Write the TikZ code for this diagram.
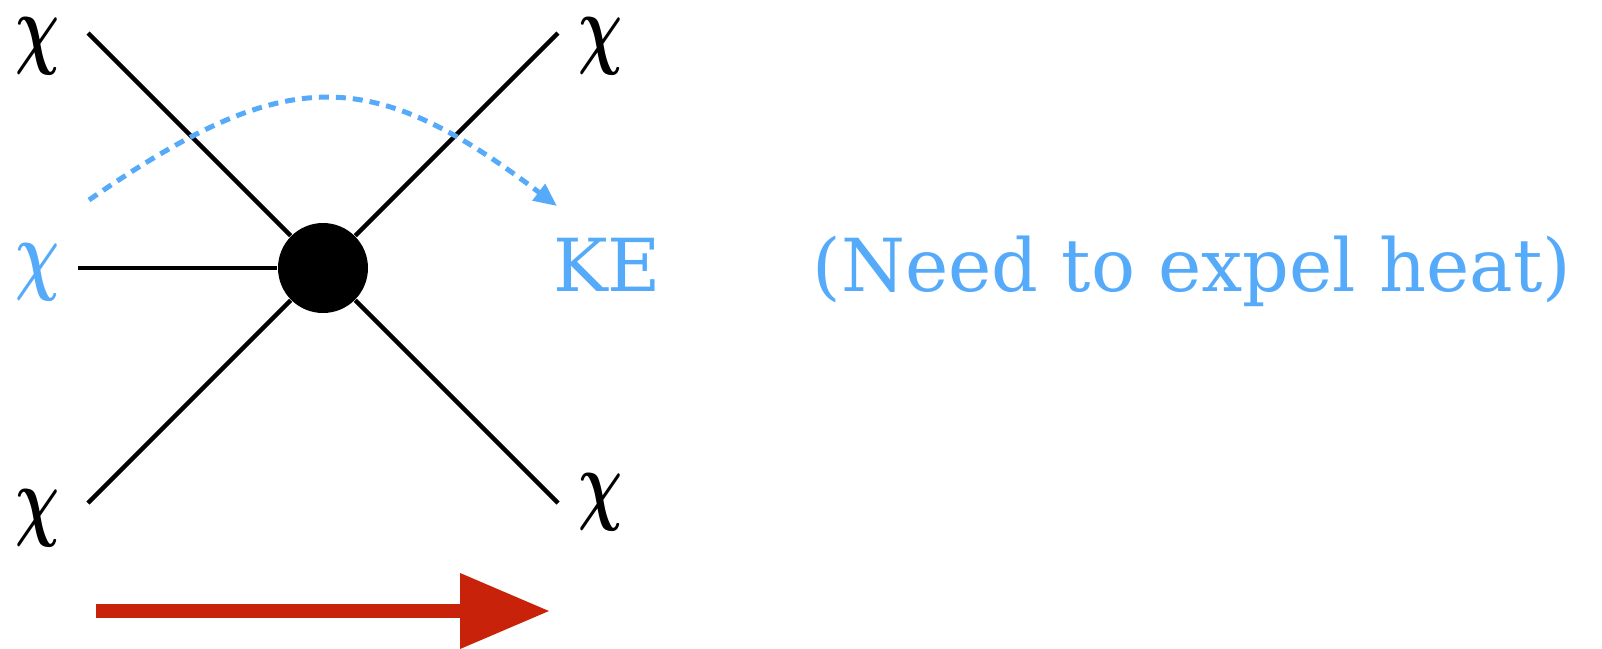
\documentclass[tikz,border=0pt]{standalone}
\usepackage{fontspec}
\setmainfont{DejaVu Serif}
\usepackage{graphicx}
\usepackage{xcolor}
\usepackage{tikz}
\usetikzlibrary{arrows.meta,positioning}
\definecolor{heatblue}{RGB}{85, 170, 250}
\definecolor{flowred}{RGB}{200, 35, 10}
\newcommand{\chisym}{\scalebox{1.75}[2.55]{\boldmath$\chi$}}

\begin{document}
\begin{tikzpicture}[x=0.1mm, y=-0.1mm,
    leg/.style={line width=0.45mm, black},
    chilabel/.style={inner sep=0pt},
    heattext/.style={inner sep=0pt, text=heatblue, font=\fontsize{20.8}{25}\selectfont}]
\useasboundingbox (0,0) rectangle (1602,648);
% Vertex
\node[circle, fill=black, minimum size=9mm, inner sep=0pt] (vertex) at (323,268) {};
% External legs
\foreach \name/\x/\y in {tl/88/33, tr/558/33, bl/88/503, br/558/503, l/78/268} {
    \coordinate (\name) at (\x,\y);
    \draw[leg] (\name) -- (vertex);
}
% Particle labels
\foreach \name/\x/\y in {TL/38/46, TR/601/46, BL/38/518, BR/601/502} {
    \node[chilabel] (chi\name) at (\x,\y) {\chisym};
}
\node[chilabel, text=heatblue] (chiL) at (38,272) {\chisym};
% Energy carried away
\coordinate (arcstart) at (89,200);
\coordinate (arcend) at (557,206);
\draw[heatblue, line width=0.5mm, dash pattern=on 1mm off 0.7mm,
    -{Triangle[length=2.3mm, width=2mm]}]
    (arcstart) .. controls (286,64) and (370,64) .. (arcend);
\node[heattext, anchor=base] (ke) at (607,291) {KE};
\node[heattext, anchor=base west] (heat) at (812,291) {(Need to expel heat)};
% Time direction
\coordinate (flowstart) at (96,611);
\coordinate (flowend) at (550,611);
\draw[flowred, line width=1.4mm, -{Triangle[length=9mm, width=7.2mm]}] (flowstart) -- (flowend);
\end{tikzpicture}
\end{document}
